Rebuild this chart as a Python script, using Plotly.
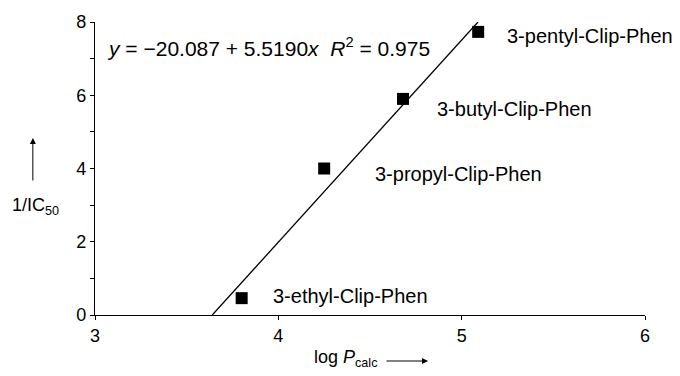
import plotly.graph_objects as go

# Data
compounds = ["3-ethyl-Clip-Phen", "3-propyl-Clip-Phen", "3-butyl-Clip-Phen", "3-pentyl-Clip-Phen"]
log_p = [3.80, 4.25, 4.68, 5.09]
inv_ic50 = [0.46, 4.0, 5.9, 7.73]
intercept = -20.087
slope = 5.5190
r2 = 0.975
x_ticks = [3, 4, 5, 6]
y_ticks = [0, 2, 4, 6, 8]

FONT = "Liberation Sans, Arial, Helvetica, sans-serif"
FS = 18
FS_LAB = 20
FS_EQ = 21

fit_y = [0, 8]
fit_x = [(v - intercept) / slope for v in fit_y]

fig = go.Figure()
fig.add_trace(go.Scatter(x=fit_x, y=fit_y, mode="lines",
                         line=dict(color="black", width=1.3), showlegend=False,
                         cliponaxis=False, hoverinfo="skip"))
fig.add_trace(go.Scatter(x=log_p, y=inv_ic50, mode="markers",
                         marker=dict(symbol="square", size=12, color="black"),
                         showlegend=False, cliponaxis=False))

# point labels (positions in data units)
label_pos = [(3.96, 0.52), (4.516, 3.85), (4.855, 5.63), (5.236, 7.62)]
for name, (lx, ly) in zip(compounds, label_pos):
    fig.add_annotation(x=lx, y=ly, text=name, showarrow=False, xanchor="left",
                       yanchor="middle", font=dict(family=FONT, size=FS_LAB, color="black"))

fig.add_annotation(x=3.052, y=7.32, xanchor="left", yanchor="middle", showarrow=False,
                   text=f"<i>y</i> = \u221220.087 + 5.5190<i>x</i>  <i>R</i><sup>2</sup> = {r2}",
                   font=dict(family=FONT, size=FS_EQ, color="black"))

# y title with arrow
fig.add_annotation(xref="paper", yref="paper", x=-0.109, y=0.369, text="1/IC<sub>50</sub>",
                   showarrow=False, xanchor="center", yanchor="middle",
                   font=dict(family=FONT, size=FS, color="black"))
fig.add_annotation(xref="paper", yref="paper", x=-0.113, y=(315 - 138) / 293, ax=0, ay=44,
                   text="", showarrow=True, arrowhead=2, arrowsize=1.2, arrowwidth=1,
                   arrowcolor="black")

# x title with arrow
fig.add_annotation(xref="paper", yref="paper", x=(345 - 95) / 550, y=-(358 - 315) / 293,
                   text="log <i>P</i><sub>calc</sub>", showarrow=False,
                   xanchor="center", yanchor="middle",
                   font=dict(family=FONT, size=FS, color="black"))
fig.add_annotation(xref="paper", yref="paper", x=(428 - 95) / 550, y=-(361 - 315) / 293,
                   ax=-43, ay=0, text="", showarrow=True, arrowhead=2, arrowsize=1.2,
                   arrowwidth=1, arrowcolor="black")

fig.update_xaxes(range=[3, 6], tickvals=x_ticks, showgrid=False, zeroline=False,
                 showline=True, linecolor="black", linewidth=1.3,
                 ticks="outside", ticklen=4, tickcolor="black", tickwidth=1.3,
                 tickfont=dict(family=FONT, size=FS, color="black"))
fig.update_yaxes(range=[0, 8], tickvals=y_ticks, showgrid=False, zeroline=False,
                 showline=True, linecolor="black", linewidth=1.3,
                 ticks="outside", ticklen=4, tickcolor="black", tickwidth=1.3,
                 minor=dict(dtick=1, ticks="outside", ticklen=4, tickcolor="black",
                            tickwidth=1.3, showgrid=False),
                 tickfont=dict(family=FONT, size=FS, color="black"))

fig.update_layout(width=680, height=376, margin=dict(l=95, r=35, t=22, b=61),
                  plot_bgcolor="white", paper_bgcolor="white",
                  font=dict(family=FONT, size=FS, color="black"))

fig.write_html("out.html")
